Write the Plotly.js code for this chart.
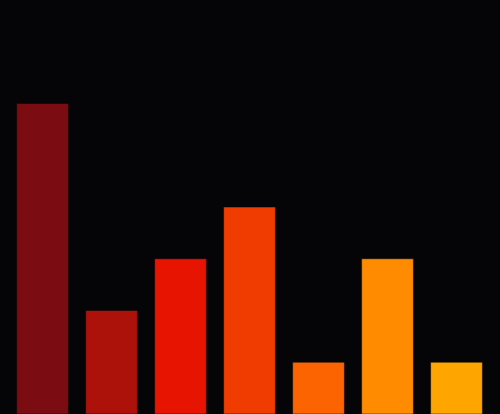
<!DOCTYPE html>
<html>
<head>
<meta charset="utf-8">
<script src="https://cdn.plot.ly/plotly-3.0.1.min.js"></script>
<style>
  html, body { margin: 0; padding: 0; background: #050507; }
  #chart { width: 500px; height: 414px; }
</style>
</head>
<body>
<div id="chart"></div>
<script>
// categories and values
const categories = ['A', 'B', 'C', 'D', 'E', 'F', 'G'];
const values = [6, 2, 3, 4, 1, 3, 1];
const barColors = ['#7b0c11', '#ac110a', '#e61400', '#f03c00', '#fb6400', '#ff8c00', '#ffa500'];

const data = [{
    type: 'bar',
    x: categories,
    y: values,
    marker: {
        color: barColors,
        line: { color: '#050507', width: 0.5 }
    },
    hoverinfo: 'x+y',
    showlegend: false
}];

const layout = {
    width: 500,
    height: 414,
    margin: { t: 0, b: 0, l: 8, r: 9, pad: 0 },
    paper_bgcolor: '#050507',
    plot_bgcolor: '#050507',
    bargap: 0.25,
    xaxis: { visible: false, showgrid: false, zeroline: false },
    yaxis: { visible: false, showgrid: false, zeroline: false, range: [0, 8] },
    showlegend: false
};

Plotly.newPlot('chart', data, layout, { displayModeBar: false, staticPlot: true });
</script>
</body>
</html>
